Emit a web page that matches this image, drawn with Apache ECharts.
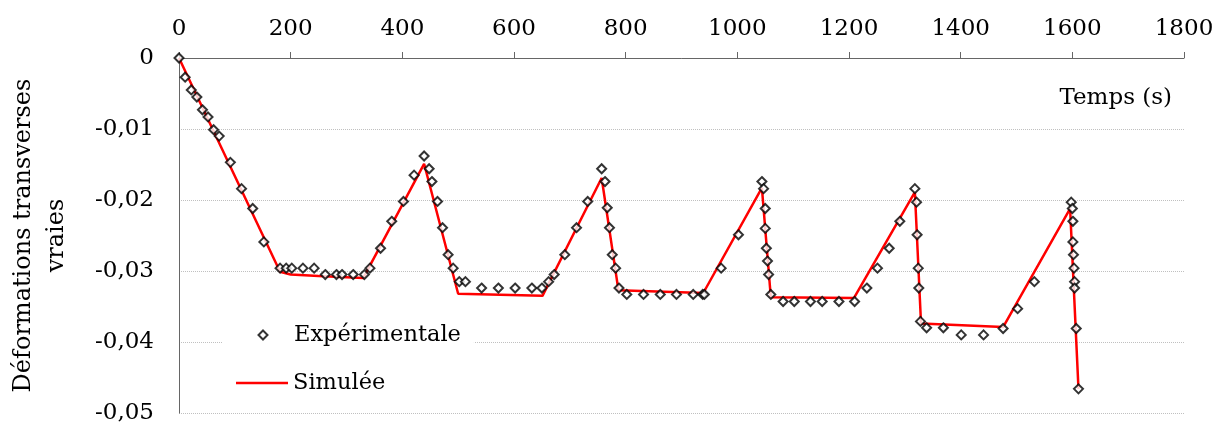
<!DOCTYPE html>
<html>
<head>
<meta charset="utf-8">
<script src="https://cdn.jsdelivr.net/npm/echarts@6/dist/echarts.min.js"></script>
<style>html,body{margin:0;padding:0;background:#fff;}#c{width:1224px;height:423px;}</style>
</head>
<body>
<div id="c"></div>
<script>
// Experimental points: time (s) and strain
var expTime = [0,11,22,32,42,52,62,72,92,112,132,152,181,192,202,222,242,262,282,292,312,332,342,361,381,402,421,439,448,453,463,472,482,491,502,513,542,572,602,632,650,662,672,691,712,732,757,763,767,771,776,782,788,802,832,862,891,921,938,941,971,1002,1044,1047,1050,1050,1052,1054,1056,1060,1082,1102,1131,1152,1182,1210,1232,1251,1272,1291,1318,1321,1322,1324,1325,1328,1339,1369,1401,1441,1476,1502,1532,1598,1600,1601,1601,1602,1603,1604,1604,1607,1611];
var expStrain = [0,-0.0027,-0.0045,-0.0055,-0.0073,-0.0083,-0.0101,-0.0110,-0.0147,-0.0184,-0.0212,-0.0259,-0.0296,-0.0296,-0.0296,-0.0296,-0.0296,-0.0305,-0.0305,-0.0305,-0.0305,-0.0305,-0.0296,-0.0268,-0.0230,-0.0202,-0.0165,-0.0138,-0.0156,-0.0174,-0.0202,-0.0239,-0.0277,-0.0296,-0.0315,-0.0315,-0.0324,-0.0324,-0.0324,-0.0324,-0.0324,-0.0315,-0.0305,-0.0277,-0.0239,-0.0202,-0.0156,-0.0174,-0.0211,-0.0239,-0.0277,-0.0296,-0.0324,-0.0333,-0.0333,-0.0333,-0.0333,-0.0333,-0.0333,-0.0333,-0.0296,-0.0249,-0.0174,-0.0184,-0.0212,-0.0240,-0.0268,-0.0286,-0.0305,-0.0333,-0.0343,-0.0343,-0.0343,-0.0343,-0.0343,-0.0343,-0.0324,-0.0296,-0.0268,-0.0230,-0.0184,-0.0203,-0.0249,-0.0296,-0.0324,-0.0371,-0.0380,-0.0380,-0.0390,-0.0390,-0.0381,-0.0353,-0.0315,-0.0203,-0.0212,-0.0230,-0.0259,-0.0277,-0.0296,-0.0315,-0.0324,-0.0381,-0.0466];
// Simulated curve
var simTime = [0,181,200,250,330,439,500,651,757,787,939,1044,1060,1209,1318,1329,1476,1596,1611];
var simStrain = [0,-0.0301,-0.0305,-0.0307,-0.0310,-0.0149,-0.0332,-0.0335,-0.0169,-0.0327,-0.0331,-0.0183,-0.0337,-0.0338,-0.0189,-0.0374,-0.0379,-0.0212,-0.0466];
var seriesNames = ['Expérimentale','Simulée'];
var xAxisName = 'Temps (s)';
var yAxisName = 'Déformations transverses\nvraies';

var FONT = 'DejaVu Serif';
var expData = expTime.map(function(t,i){return [t, expStrain[i]];});
var simData = simTime.map(function(t,i){return [t, simStrain[i]];});

var chart = echarts.init(document.getElementById('c'), null, {renderer:'canvas'});
chart.setOption({
  animation: false,
  backgroundColor: '#fff',
  grid: {left: 179, right: 40, top: 58, bottom: 10, containLabel: false, outerBoundsMode: 'none'},
  legend: [
    {
      left: 223, top: 317,
      padding: [5, 13, 5, 34.5],
      backgroundColor: '#fff',
      itemWidth: 9, itemHeight: 9,
      textStyle: {fontFamily: FONT, fontSize: 22.5, color: '#000', lineHeight: 26, padding: [0, 0, 0, 21.5]},
      data: [{name: seriesNames[0], icon: 'diamond', itemStyle: {color: '#fff', borderColor: '#000', borderWidth: 2}}]
    },
    {
      left: 223, top: 365,
      padding: [5, 13, 5, 13],
      backgroundColor: '#fff',
      itemWidth: 52, itemHeight: 2.5,
      textStyle: {fontFamily: FONT, fontSize: 22.5, color: '#000', lineHeight: 26},
      data: [{name: seriesNames[1], icon: 'rect', itemStyle: {color: '#ff0000', borderWidth: 0}}]
    }
  ],
  xAxis: {
    type: 'value', position: 'top', min: 0, max: 1800, interval: 200,
    name: xAxisName, nameLocation: 'end', nameGap: -12,
    nameTextStyle: {fontFamily: FONT, fontSize: 23, color: '#000', align: 'right', verticalAlign: 'top', padding: [29, 0, 0, 0]},
    axisLine: {show: true, lineStyle: {color: '#666', width: 1}},
    axisTick: {show: true, inside: false, length: 6, lineStyle: {color: '#666'}},
    axisLabel: {fontFamily: FONT, fontSize: 23, color: '#000', margin: 17,
      formatter: function(v){ return String(v); }},
    splitLine: {show: false}
  },
  yAxis: {
    type: 'value', min: -0.05, max: 0, interval: 0.01,
    name: yAxisName, nameLocation: 'middle', nameGap: 106,
    nameTextStyle: {fontFamily: FONT, fontSize: 24, color: '#000', lineHeight: 33, align: 'center'},
    axisLine: {show: true, onZero: false, lineStyle: {color: '#666', width: 1}},
    axisTick: {show: false},
    axisLabel: {fontFamily: FONT, fontSize: 23, color: '#000', margin: 25,
      formatter: function(v){ return v === 0 ? '0' : v.toFixed(2).replace('.', ','); }},
    splitLine: {show: true, lineStyle: {color: '#c0c0c0', type: 'dotted', width: 1}}
  },
  series: [
    {
      name: seriesNames[1], type: 'line', data: simData, symbol: 'none', showSymbol: false,
      lineStyle: {color: '#ff0000', width: 2.5}, itemStyle: {color: '#ff0000'}, z: 2
    },
    {
      name: seriesNames[0], type: 'scatter', data: expData, symbol: 'diamond', symbolSize: 9,
      itemStyle: {color: '#fff', borderColor: '#000', borderWidth: 2}, z: 3
    }
  ]
});
</script>
</body>
</html>
